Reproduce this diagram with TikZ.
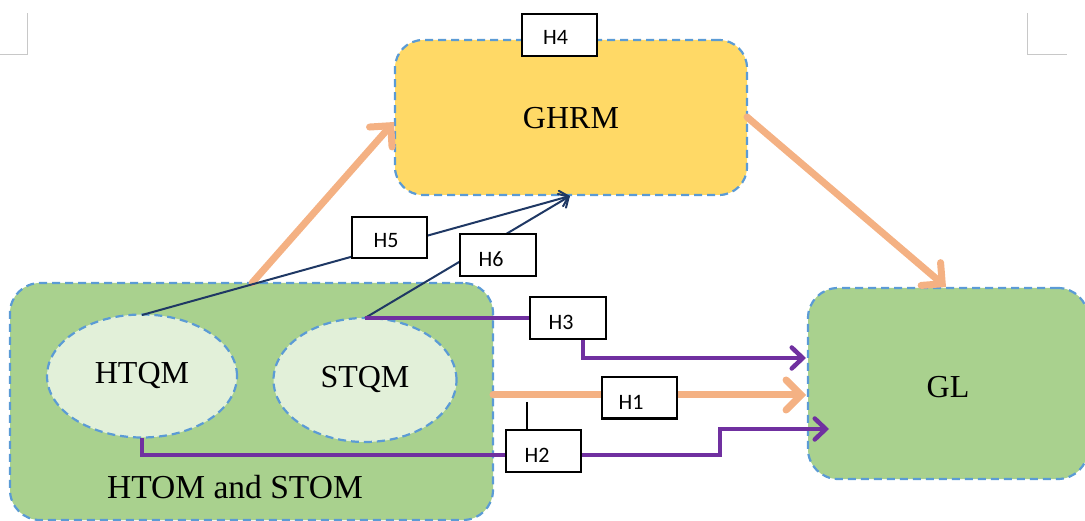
\documentclass[tikz,border=0pt]{standalone}
\usepackage{fontspec}
\setmainfont{Liberation Serif}
\newfontfamily\hfont{Carlito}
\usetikzlibrary{arrows.meta,shapes.geometric}
\definecolor{ghrmyellow}{HTML}{FFD966}
\definecolor{boxgreen}{HTML}{A9D18E}
\definecolor{ellgreen}{HTML}{E2F0D9}
\definecolor{dashblue}{HTML}{5B9BD5}
\definecolor{orangeln}{HTML}{F4B183}
\definecolor{purpleln}{HTML}{7030A0}
\definecolor{navyln}{HTML}{1F3864}
\definecolor{markgray}{HTML}{C8C8C8}
\tikzset{
  dashedborder/.style={draw=dashblue, line width=2.2pt, dash pattern=on 8pt off 5pt},
  bigbox/.style={dashedborder, rounded corners=30pt, inner sep=0pt},
  ellbox/.style={dashedborder, ellipse, fill=ellgreen, inner sep=0pt},
  hbox/.style={draw=black, line width=2pt, fill=white, inner sep=0pt},
  htext/.style={inner sep=0pt, font=\hfont\fontsize{22}{26}\selectfont},
  bigtext/.style={font=\fontsize{32}{38}\selectfont},
  orangearrow/.style={draw=orangeln, line width=7pt, line cap=round,
     -{Straight Barb[length=15pt, width=30pt, line cap=round]}},
  purplearrow/.style={draw=purpleln, line width=4.5pt,
     -{Straight Barb[length=11pt, width=21pt, line cap=round]}},
  purpleline/.style={draw=purpleln, line width=4.5pt},
  navyline/.style={draw=navyln, line width=2pt},
  navyarrow/.style={draw=navyln, line width=2pt,
     -{Straight Barb[length=8pt, width=16pt, line cap=round]}},
  markline/.style={draw=markgray, line width=1pt}
}
\begin{document}
\begin{tikzpicture}[x=1pt,y=-1pt]
\useasboundingbox (0,0) rectangle (1085,521);
\clip (0,0) rectangle (1085,521);
% page corner marks
\draw[markline] (0,55) -- (27,55) -- (27,13);
\draw[markline] (1027,13) -- (1027,55) -- (1067,55);
% main boxes
\node[bigbox, fill=ghrmyellow, minimum width=352pt, minimum height=155pt, rounded corners=28pt] (ghrm) at (571,117.5) {};
\node[bigtext] (ghrmtext) at (571,118) {GHRM};
\node[bigbox, fill=boxgreen, minimum width=483pt, minimum height=237pt] (htom) at (251.5,401.5) {};
\node[bigtext, font=\fontsize{33.5}{40}\selectfont] (htomtext) at (235,487) {HTOM and STOM};
\node[bigbox, fill=boxgreen, minimum width=280pt, minimum height=191pt] (gl) at (948,383.5) {};
\node[bigtext] (gltext) at (948,387) {GL};
\node[ellbox, minimum width=190pt, minimum height=123pt] (htqm) at (142,376) {};
\node[bigtext] (htqmtext) at (142,376) {HTQM};
\node[ellbox, minimum width=183pt, minimum height=124pt] (stqm) at (365,380) {};
\node[bigtext] (stqmtext) at (365,380) {STQM};
% connector coordinates
\coordinate (o1s) at (252,283);
\coordinate (o1e) at (394,122);
\coordinate (o2s) at (747,117);
\coordinate (o2e) at (946,287);
\coordinate (o3s) at (493,395);
\coordinate (o3e) at (806,395);
\coordinate (navytip) at (570,196);
\coordinate (htqmtop) at (142,315);
\coordinate (stqmtop) at (365,318);
\coordinate (htqmbot) at (142,438);
% orange arrows
\draw[orangearrow] (o1s) -- (o1e);
\draw[orangearrow] (o2s) -- (o2e);
\draw[orangearrow] (o3s) -- (o3e);
% navy arrows
\draw[navyarrow] (htqmtop) -- (navytip);
\draw[navyarrow] (stqmtop) -- (navytip);
% H3 path
\draw[purpleline] (stqmtop) -- (530,318);
\draw[purplearrow] (583,339) |- (806,358);
% H2 path
\draw[purpleline] (htqmbot) |- (506,455);
\draw[purplearrow] (581,455) -- (720,455) -- (720,429) -- (829,429);
% tick
\draw[black, line width=1.5pt] (527,402) -- (527,430);
% label boxes
\node[hbox, minimum width=75pt, minimum height=42pt] (h4) at (559.5,35) {};
\node[htext] (h4t) at (555.5,37) {H4};
\node[hbox, minimum width=75pt, minimum height=41pt] (h1) at (639,398) {};
\node[htext] (h1t) at (631,402) {H1};
\node[hbox, minimum width=75pt, minimum height=42pt] (h2) at (543.5,451) {};
\node[htext] (h2t) at (537,455) {H2};
\node[hbox, minimum width=76pt, minimum height=42pt] (h3) at (568,318) {};
\node[htext] (h3t) at (561,322) {H3};
\node[hbox, minimum width=75pt, minimum height=41pt] (h5) at (389.5,237.5) {};
\node[htext] (h5t) at (386,241) {H5};
\node[hbox, minimum width=76pt, minimum height=42pt] (h6) at (498,255) {};
\node[htext] (h6t) at (491,259) {H6};
\end{tikzpicture}
\end{document}
